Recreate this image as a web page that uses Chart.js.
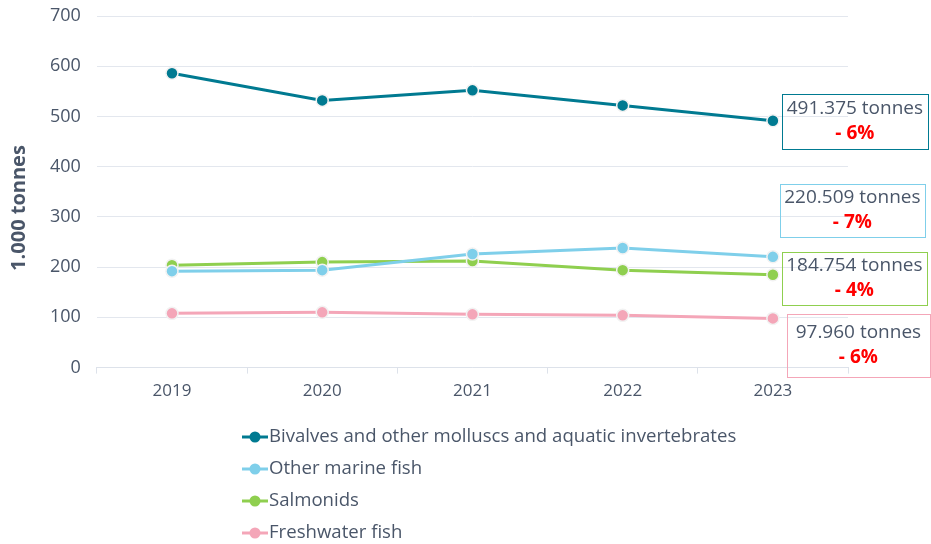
<!DOCTYPE html>
<html><head><meta charset="utf-8">
<script src="https://cdn.jsdelivr.net/npm/chart.js@4"></script>
<style>html,body{margin:0;padding:0;background:#fff}#wrap{width:931px;height:544px}</style>
</head><body><div id="wrap"><canvas id="c" width="931" height="544"></canvas></div>
<script>
const years = ['2019','2020','2021','2022','2023'];
const seriesNames = ['Bivalves and other molluscs and aquatic invertebrates','Other marine fish','Salmonids','Freshwater fish'];
const bivalves = [586, 532, 552, 522, 491.375];
const otherMarine = [192, 194, 226, 238, 220.509];
const salmonids = [204, 210, 212, 194, 184.754];
const freshwater = [108, 110, 106, 104, 97.960];
const endLabels = ['491.375 tonnes','220.509 tonnes','184.754 tonnes','97.960 tonnes'];
const changeLabels = ['- 6%','- 7%','- 4%','- 6%'];
const yTicks = [0,100,200,300,400,500,600,700];
const yTitle = '1.000 tonnes';

const colors = ['#007a91','#7fcfea','#8fcf4f','#f4a6b8'];
const FONT = '"Open Sans", Roboto, sans-serif';
const TXT = '#4a5669';

const boxStyle = [
  {dx: 9, dy: -27, w: 146, h: 55},
  {dx: 7, dy: -73, w: 145, h: 53},
  {dx: 9, dy: -23, w: 145, h: 53},
  {dx: 14, dy: -4, w: 143, h: 63}
];

const annoPlugin = {
  id: 'endAnno',
  afterDatasetsDraw(chart) {
    const ctx = chart.ctx;
    chart.data.datasets.forEach((ds, i) => {
      const meta = chart.getDatasetMeta(i);
      const pt = meta.data[meta.data.length - 1];
      const s = boxStyle[i];
      const x = pt.x + s.dx, y = pt.y + s.dy;
      ctx.save();
      ctx.strokeStyle = colors[i];
      ctx.lineWidth = 1;
      ctx.strokeRect(Math.round(x) + 0.5, Math.round(y) + 0.5, s.w, s.h);
      ctx.textAlign = 'center';
      ctx.textBaseline = 'middle';
      ctx.fillStyle = TXT;
      ctx.font = '19px ' + FONT;
      const cx = x + s.w / 2;
      ctx.fillText(endLabels[i], cx, y + s.h / 2 - 13);
      ctx.fillStyle = '#ff0000';
      ctx.font = 'bold 19px ' + FONT;
      ctx.fillText(changeLabels[i], cx, y + s.h / 2 + 12);
      ctx.restore();
    });
    // y axis title
    ctx.save();
    ctx.translate(19, 208);
    ctx.rotate(-Math.PI / 2);
    ctx.fillStyle = TXT;
    ctx.font = 'bold 20px ' + FONT;
    ctx.textAlign = 'center';
    ctx.textBaseline = 'middle';
    ctx.fillText(yTitle, 0, 0);
    ctx.restore();
  }
};

const legendPlugin = {
  id: 'stackLegend',
  afterDraw(chart) {
    const ctx = chart.ctx;
    const x0 = 242, y0 = 437, step = 32;
    chart.data.datasets.forEach((ds, i) => {
      const y = y0 + i * step;
      ctx.save();
      ctx.strokeStyle = ds.borderColor;
      ctx.lineWidth = 3;
      ctx.beginPath(); ctx.moveTo(x0, y); ctx.lineTo(x0 + 26, y); ctx.stroke();
      ctx.fillStyle = ds.borderColor;
      ctx.beginPath(); ctx.arc(x0 + 13, y, 5.5, 0, Math.PI * 2); ctx.fill();
      ctx.fillStyle = TXT;
      ctx.font = '18.6px ' + FONT;
      ctx.textAlign = 'left';
      ctx.textBaseline = 'middle';
      ctx.fillText(ds.label, x0 + 27, y);
      ctx.restore();
    });
  }
};

const seriesData = [bivalves, otherMarine, salmonids, freshwater];
new Chart(document.getElementById('c'), {
  type: 'line',
  data: {
    labels: years,
    datasets: seriesData.map((d, i) => ({
      label: seriesNames[i],
      data: d,
      borderColor: colors[i],
      backgroundColor: colors[i],
      borderWidth: 3,
      pointRadius: 6,
      pointBorderWidth: 1.5,
      pointBorderColor: '#f2f2f2',
      pointBackgroundColor: colors[i],
      tension: 0
    }))
  },
  options: {
    responsive: false,
    animation: false,
    devicePixelRatio: 1,
    layout: {padding: {top: 16, right: 83, bottom: 136, left: 6}},
    plugins: {legend: {display: false}, tooltip: {enabled: false}},
    scales: {
      x: {
        offset: true,
        grid: {display: true, offset: true, drawOnChartArea: false, drawTicks: true, tickLength: 6, color: '#dde2ea'},
        border: {display: true, color: '#dde2ea'},
        ticks: {color: TXT, font: {family: FONT, size: 17}, padding: 7}
      },
      y: {
        min: 0, max: 700,
        afterBuildTicks(axis) { axis.ticks = yTicks.map(v => ({value: v})); },
        afterFit(axis) { axis.paddingTop = 0; axis.paddingBottom = 0; },
        grid: {color: '#e3e7ee', drawTicks: false},
        border: {display: false},
        ticks: {color: TXT, font: {family: FONT, size: 18}, padding: 16},
        title: {display: true, text: yTitle, color: 'rgba(0,0,0,0)', font: {family: FONT, size: 20, weight: 'bold'}, padding: {top: 0, bottom: 4}}
      }
    }
  },
  plugins: [annoPlugin, legendPlugin]
});
</script></body></html>
